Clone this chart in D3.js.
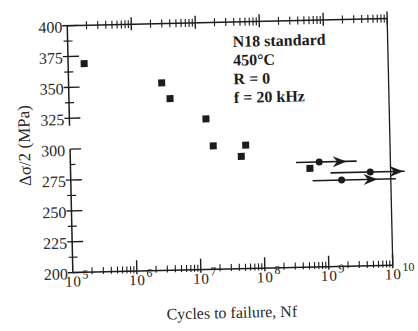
<!DOCTYPE html>
<html>
<head>
<meta charset="utf-8">
<script src="https://cdn.jsdelivr.net/npm/d3@7"></script>
<style>
  body { margin: 0; background: #fff; }
  svg { display: block; }
</style>
</head>
<body>
<div id="chart"></div>
<script>
// failed specimens (squares)
const failedCycles = [1.78e5, 2.85e6, 3.8e6, 1.36e7, 1.73e7, 5.56e7, 4.7e7, 5.5e8]
const failedStress = [369, 352, 339, 322, 300, 300, 291, 280]

// run-outs (circles with arrows)
const runoutCycles = [7.7e8, 4.8e9, 1.7e9]
const runoutStress = [285, 276, 270]
const runoutLineFrom = [3.35e8, 1.15e9, 6.0e8]
const runoutLineTo = [2.97e9, 1.66e10, 1.2e10]
const runoutArrowTip = [2.07e9, 1.58e10, 6.2e9]

const decades = [5, 6, 7, 8, 9, 10]
const yMajor = [200, 225, 250, 275, 300, 325, 350, 375, 400]
const yMinor = [212.5, 237.5, 262.5, 287.5, 337.5, 362.5, 387.5]
const yBreak = [319, 300] // axis is cut between these two values

const notes = ['N18 standard', '450°C', 'R = 0', 'f = 20 kHz']

const W = 418, H = 331
const ink = '#1c1c1c'
const serif = '"Liberation Serif", "DejaVu Serif", serif'

const x = d3.scaleLog().domain([1e5, 1e10]).range([70, 390])
const y = d3.scaleLinear().domain([200, 400]).range([269, 22])
const [x0, x1] = x.range()
const [y0, y1] = [y(400), y(200)]

const svg = d3.select('#chart').append('svg')
  .attr('width', W)
  .attr('height', H)

// the scanned figure sits slightly tilted
const g = svg.append('g').attr('transform', 'rotate(-1.3, 230, 145)')

// frame: bottom, top and right lines
g.append('line').attr('x1', x0).attr('x2', x1).attr('y1', y1).attr('y2', y1)
  .attr('stroke', ink).attr('stroke-width', 1.5)
g.append('line').attr('x1', x0).attr('x2', x1).attr('y1', y0).attr('y2', y0)
  .attr('stroke', ink).attr('stroke-width', 1.5)
g.append('line').attr('x1', x1).attr('x2', x1).attr('y1', y0).attr('y2', y1)
  .attr('stroke', ink).attr('stroke-width', 1.3)

// left axis in two pieces
g.append('line').attr('x1', x0).attr('x2', x0).attr('y1', y(400)).attr('y2', y(yBreak[0]))
  .attr('stroke', ink).attr('stroke-width', 1.5)
g.append('line').attr('x1', x0).attr('x2', x0).attr('y1', y(yBreak[1])).attr('y2', y(200))
  .attr('stroke', ink).attr('stroke-width', 1.5)

// x ticks
const minorX = []
decades.slice(0, -1).forEach(d => {
  for (let k = 2; k <= 9; k++) minorX.push(k * Math.pow(10, d))
})
const decadeX = decades.map(d => Math.pow(10, d))

g.selectAll('.xminor-b').data(minorX).join('line')
  .attr('x1', d => x(d)).attr('x2', d => x(d))
  .attr('y1', y1 - 5).attr('y2', y1 + 2)
  .attr('stroke', ink).attr('stroke-width', 1.1)
g.selectAll('.xmajor-b').data(decadeX.slice(1)).join('line')
  .attr('x1', d => x(d)).attr('x2', d => x(d))
  .attr('y1', y1 - 11).attr('y2', y1 + 3)
  .attr('stroke', ink).attr('stroke-width', 1.4)
g.selectAll('.xminor-t').data(minorX).join('line')
  .attr('x1', d => x(d)).attr('x2', d => x(d))
  .attr('y1', y0 - 4).attr('y2', y0 + 4)
  .attr('stroke', ink).attr('stroke-width', 1.1)
g.selectAll('.xmajor-t').data(decadeX.slice(1)).join('line')
  .attr('x1', d => x(d)).attr('x2', d => x(d))
  .attr('y1', y0 - 7).attr('y2', y0 + 6)
  .attr('stroke', ink).attr('stroke-width', 1.4)

// x tick labels: 10 with superscript exponent
const xl = g.selectAll('.xlab').data(decades).join('text')
  .attr('x', d => x(Math.pow(10, d)) - 8)
  .attr('y', y1 + 14)
  .attr('font-family', serif)
  .attr('font-size', 15)
  .attr('fill', ink)
xl.append('tspan').text('10').attr('letter-spacing', 0.8)
xl.append('tspan').text(d => d).attr('dx', 1).attr('dy', -8).attr('font-size', 12)

// y ticks
g.selectAll('.ymajor').data(yMajor).join('line')
  .attr('x1', d => d === 300 ? x0 : x0 - 5).attr('x2', x0 + 11)
  .attr('y1', d => y(d)).attr('y2', d => y(d))
  .attr('stroke', ink).attr('stroke-width', 1.4)
g.selectAll('.yminor').data(yMinor).join('line')
  .attr('x1', d => d === 287.5 ? x0 : x0 - 4).attr('x2', x0 + 5)
  .attr('y1', d => y(d)).attr('y2', d => y(d))
  .attr('stroke', ink).attr('stroke-width', 1.2)

g.selectAll('.ylab').data(yMajor).join('text')
  .attr('x', x0 - 5)
  .attr('y', d => y(d))
  .attr('dy', '0.42em')
  .attr('text-anchor', 'end')
  .attr('font-family', serif)
  .attr('font-size', 16)
  .attr('fill', '#2a2a2a')
  .text(d => d)

// axis titles
g.append('text')
  .attr('x', (x0 + x1) / 2 - 2)
  .attr('y', 318)
  .attr('text-anchor', 'middle')
  .attr('font-family', serif)
  .attr('font-size', 16)
  .attr('fill', '#2a2a2a')
  .text('Cycles to failure, Nf')

g.append('text')
  .attr('transform', 'translate(30, 141) rotate(-90)')
  .attr('text-anchor', 'middle')
  .attr('font-family', serif)
  .attr('font-size', 17)
  .attr('fill', '#2a2a2a')
  .text('Δσ/2 (MPa)')

// test conditions
g.selectAll('.note').data(notes).join('text')
  .attr('x', 235)
  .attr('y', (d, i) => 47 + i * 18.7)
  .attr('font-family', serif)
  .attr('font-weight', 'bold')
  .attr('font-size', 16)
  .attr('fill', ink)
  .text(d => d)

// failed points
g.selectAll('.fail').data(failedCycles).join('rect')
  .attr('x', (d, i) => x(d) - 3.5)
  .attr('y', (d, i) => y(failedStress[i]) - 3.5)
  .attr('width', 7)
  .attr('height', 7)
  .attr('fill', ink)

// run-out lines, arrows and circles
g.selectAll('.rline').data(runoutCycles).join('line')
  .attr('x1', (d, i) => x(runoutLineFrom[i]))
  .attr('x2', (d, i) => x(runoutLineTo[i]))
  .attr('y1', (d, i) => y(runoutStress[i]))
  .attr('y2', (d, i) => y(runoutStress[i]))
  .attr('stroke', ink).attr('stroke-width', 1.6)

g.selectAll('.rarrow').data(runoutCycles).join('path')
  .attr('d', (d, i) => {
    const tx = x(runoutArrowTip[i]), ty = y(runoutStress[i])
    return `M${tx},${ty}L${tx - 14},${ty - 5.5}L${tx - 9.5},${ty}L${tx - 14},${ty + 5.5}Z`
  })
  .attr('fill', ink)

g.selectAll('.rdot').data(runoutCycles).join('circle')
  .attr('cx', d => x(d))
  .attr('cy', (d, i) => y(runoutStress[i]))
  .attr('r', 3.5)
  .attr('fill', ink)
</script>
</body>
</html>
